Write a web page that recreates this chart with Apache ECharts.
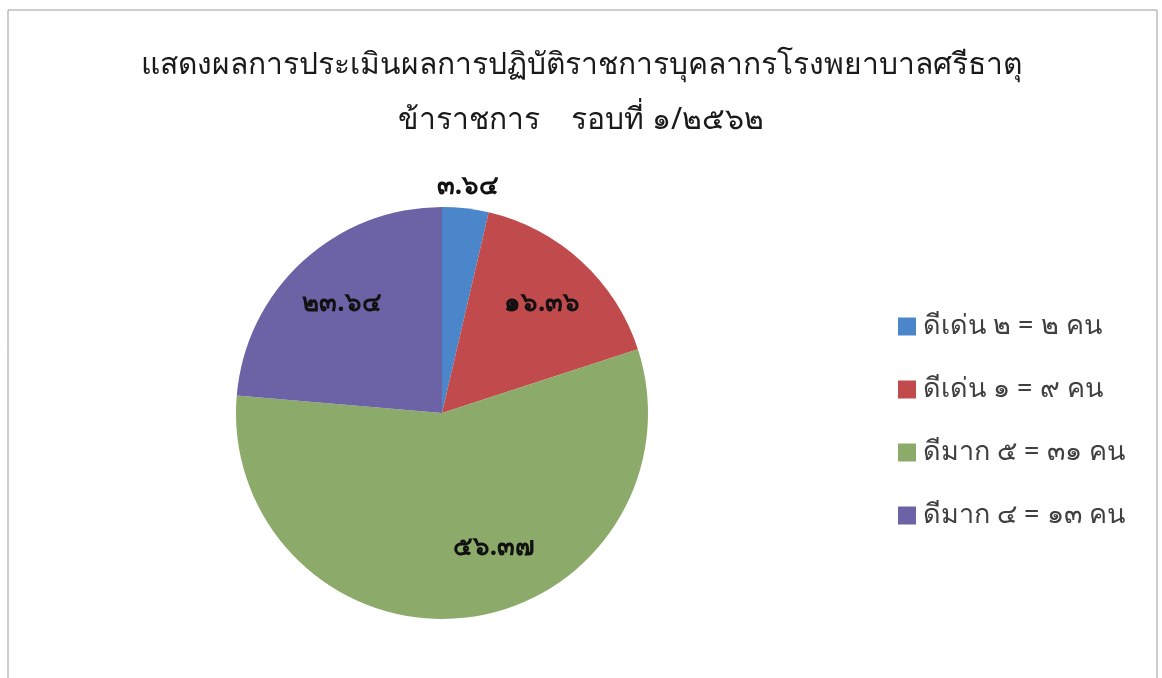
<!DOCTYPE html>
<html>
<head>
<meta charset="utf-8">
<script src="https://cdn.jsdelivr.net/npm/echarts@6/dist/echarts.min.js"></script>
<style>
  html, body { margin: 0; padding: 0; background: #fff; }
  #main { width: 1162px; height: 678px; }
</style>
</head>
<body>
<div id="main"></div>
<script>
    // ข้อมูลจากกราฟ
    var titleLines = ['แสดงผลการประเมินผลการปฏิบัติราชการบุคลากรโรงพยาบาลศรีธาตุ', 'ข้าราชการ    รอบที่ ๑/๒๕๖๒'];
    var names = ['ดีเด่น ๒ = ๒ คน', 'ดีเด่น ๑ = ๙ คน', 'ดีมาก ๕ = ๓๑ คน', 'ดีมาก ๔ = ๑๓ คน'];
    var values = [3.64, 16.36, 56.37, 23.64];
    var colors = ['#4a86c9', '#c04a4c', '#8caa6a', '#6c62a6'];

    var thaiDigits = ['๐', '๑', '๒', '๓', '๔', '๕', '๖', '๗', '๘', '๙'];
    function toThai(v) {
        return String(v).replace(/[0-9]/g, function (d) { return thaiDigits[+d]; });
    }

    var fontFam = '"Noto Sans", "DejaVu Sans", sans-serif';
    var data = names.map(function (n, i) {
        return {name: n, value: values[i], itemStyle: {color: colors[i]}};
    });

    var chart = echarts.init(document.getElementById('main'));
    chart.setOption({
        animation: false,
        textStyle: {fontFamily: fontFam},
        title: {
            text: titleLines.join('\n'), left: 'center', top: 33,
            textStyle: {fontSize: 30, fontWeight: 'normal', color: '#1a1a1a', lineHeight: 55, fontFamily: fontFam}
        },
        legend: {
            orient: 'vertical', left: 893, top: 308,
            itemWidth: 18, itemHeight: 18, itemGap: 36, icon: 'rect',
            textStyle: {fontSize: 27, color: '#404040', fontFamily: fontFam, padding: [0, 0, 0, 2]}
        },
        graphic: [{
            type: 'rect', silent: true,
            shape: {x: 8, y: 10, width: 1149, height: 700},
            style: {fill: 'none', stroke: '#9a9a9a', lineWidth: 1}
        }],
        series: [
            {
                type: 'pie', center: [442, 413], radius: 206, startAngle: 90,
                data: data,
                label: {
                    show: true, position: 'outside', distanceToLabelLine: 0,
                    fontSize: 26, fontWeight: 'bold', color: '#111',
                    formatter: function (p) { return p.dataIndex === 0 ? toThai(p.value) : ''; }
                },
                labelLine: {show: false, length: 22, length2: 0},
                labelLayout: function (p) { return {align: 'center'}; }
            },
            {
                // transparent overlay, only to place the inside labels further out
                type: 'pie', center: [442, 413], radius: 290, startAngle: 90, silent: true,
                data: data.map(function (d) { return {name: d.name, value: d.value}; }),
                itemStyle: {color: 'rgba(0,0,0,0)'},
                label: {
                    show: true, position: 'inside',
                    fontSize: 26, fontWeight: 'bold', color: '#111',
                    formatter: function (p) { return p.dataIndex === 0 ? '' : toThai(p.value); }
                },
                labelLayout: function (p) { return p.dataIndex === 2 ? {dx: 35, dy: -12} : {}; },
                labelLine: {show: false}
            }
        ]
    });
</script>
</body>
</html>
